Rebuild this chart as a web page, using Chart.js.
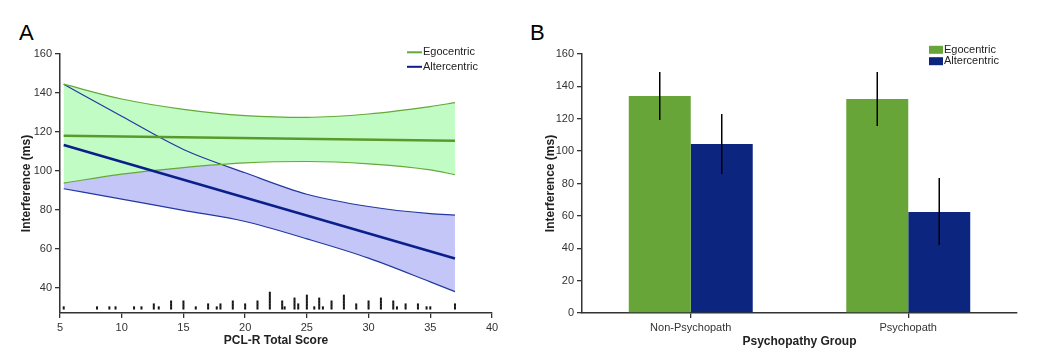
<!DOCTYPE html>
<html><head><meta charset="utf-8">
<script src="https://cdn.jsdelivr.net/npm/chart.js@4.4.0/dist/chart.umd.min.js"></script>
<style>
html,body{margin:0;padding:0;background:#fff;width:1040px;height:363px;overflow:hidden;}
#wa{position:absolute;left:0;top:0;width:510px;height:363px;}
#wb{position:absolute;left:510px;top:0;width:530px;height:363px;}
.lbl{position:absolute;font-family:"Liberation Sans",Arial,sans-serif;font-size:22px;line-height:22px;color:#000;}
</style></head><body>
<div class="lbl" style="left:19px;top:22px">A</div>
<div class="lbl" style="left:530px;top:22px">B</div>
<div id="wa"><canvas id="ca"></canvas></div>
<div id="wb"><canvas id="cb"></canvas></div>
<script>
// ---------- Data: panel A ----------
const seriesNames = ['Egocentric', 'Altercentric'];
const fitScores = [5.3, 37];
const egoFit = [118, 115.5];
const alterFit = [113.3, 55];
const ciScores = [5.3, 10, 15, 20, 25, 30, 35, 37];
const egoUpper = [144.5, 136.9, 131.6, 128.4, 127.5, 129.2, 133, 135];
const egoLower = [93.7, 98.3, 101.7, 104.1, 104.8, 103.6, 100.5, 98];
const alterUpper = [144.5, 128, 111, 99, 88, 81.7, 78, 77.3];
const alterLower = [90.8, 85.5, 79.7, 74, 65.1, 55.2, 43, 38];
const rugScores = [5.3, 8, 9, 9.5, 11, 11.6, 12.6, 13, 14, 15, 16, 17, 17.7, 18, 19, 20, 21, 22, 23, 23.2, 24, 24.3, 25, 25.6, 26, 26.3, 27, 28, 29, 30, 31, 32, 32.3, 33, 34, 34.7, 35, 37];
const rugCounts = [1, 1, 1, 1, 1, 1, 2, 1, 3, 3, 1, 2, 1, 2, 3, 2, 3, 6, 3, 1, 4, 2, 5, 1, 4, 1, 3, 5, 2, 3, 4, 3, 1, 2, 2, 1, 1, 2];
const rugBase = 29.6, rugStep = 1.5;
const xTicksA = [5, 10, 15, 20, 25, 30, 35, 40];
const yTicksA = [40, 60, 80, 100, 120, 140, 160];

// ---------- Data: panel B ----------
const groups = ['Non-Psychopath', 'Psychopath'];
const egoMeans = [134, 132.2];
const egoErrLow = [119.2, 115.5];
const egoErrHigh = [148.9, 148.9];
const alterMeans = [104.4, 62.4];
const alterErrLow = [85.9, 42];
const alterErrHigh = [122.9, 83.4];
const yTicksB = [0, 20, 40, 60, 80, 100, 120, 140, 160];

const FONT = '"Liberation Sans", Arial, sans-serif';
const AX = '#333';
const GREEN_LINE = '#66a83a', GREEN_FIT = '#5a9a2c', GREEN_FILL = '#c2fcc5';
const BLUE_LINE = '#2338a0', BLUE_FIT = '#0b1f8a', BLUE_FILL = '#c4c6f8';
const GREEN_BAR = '#68a538', BLUE_BAR = '#0c2680';

const pts = (xs, ys) => xs.map((x, i) => ({x: x, y: ys[i]}));
const rugPts = [];
rugScores.forEach((s, i) => { for (let k = 0; k < rugCounts[i]; k++) rugPts.push({x: s, y: rugBase + k * rugStep}); });

const legendPlugin = {
  id: 'customLegend',
  afterDraw(chart, args, o) {
    if (!o || !o.items) return;
    const ctx = chart.ctx; ctx.save();
    ctx.font = '11px ' + FONT; ctx.textBaseline = 'middle'; ctx.textAlign = 'left';
    o.items.forEach((it, i) => {
      const y = o.y + i * o.dy;
      if (o.kind === 'line') {
        ctx.strokeStyle = it.color; ctx.lineWidth = 2;
        ctx.beginPath(); ctx.moveTo(o.x, y); ctx.lineTo(o.x + 15, y); ctx.stroke();
      } else {
        ctx.fillStyle = it.color; ctx.fillRect(o.x, y - 4, 14, 8);
      }
      ctx.fillStyle = '#222'; ctx.fillText(it.label, o.x + o.textOff, y);
    });
    ctx.restore();
  }
};

const errPlugin = {
  id: 'errBars',
  afterDatasetsDraw(chart) {
    const ctx = chart.ctx, ys = chart.scales.y; ctx.save();
    ctx.strokeStyle = '#000'; ctx.lineWidth = 1.5;
    chart.data.datasets.forEach((ds, di) => {
      chart.getDatasetMeta(di).data.forEach((bar, i) => {
        ctx.beginPath();
        ctx.moveTo(bar.x, ys.getPixelForValue(ds.errLow[i]));
        ctx.lineTo(bar.x, ys.getPixelForValue(ds.errHigh[i]));
        ctx.stroke();
      });
    });
    ctx.restore();
  }
};

const tickFont = {family: FONT, size: 11};
const titleFont = {family: FONT, size: 12, weight: 'bold'};

function axisX(extra) {
  return Object.assign({
    grid: {display: true, drawOnChartArea: false, drawTicks: true, tickLength: 5, color: AX, tickColor: AX, lineWidth: 1.3},
    border: {display: true, color: AX, width: 1.5},
    ticks: {font: tickFont, color: '#333', padding: 3, maxRotation: 0, autoSkip: false},
    afterFit(s) { s.height = 50; }
  }, extra);
}
function axisY(extra, w) {
  return Object.assign({
    grid: {display: true, drawOnChartArea: false, drawTicks: true, tickLength: 5, color: AX, tickColor: AX, lineWidth: 1.3},
    border: {display: true, color: AX, width: 1.5},
    ticks: {font: tickFont, color: '#333', padding: 3},
    afterFit(s) { s.width = w; }
  }, extra);
}

new Chart(document.getElementById('ca'), {
  type: 'line',
  data: {
    datasets: [
      {label: seriesNames[0], data: pts(fitScores, egoFit), borderColor: GREEN_FIT, borderWidth: 2.5, pointRadius: 0, fill: false},
      {label: seriesNames[1], data: pts(fitScores, alterFit), borderColor: BLUE_FIT, borderWidth: 2.5, pointRadius: 0, fill: false},
      {label: 'ego upper', data: pts(ciScores, egoUpper), borderColor: GREEN_LINE, borderWidth: 1.2, pointRadius: 0, cubicInterpolationMode: 'monotone', fill: {target: '+1', above: GREEN_FILL, below: GREEN_FILL}},
      {label: 'ego lower', data: pts(ciScores, egoLower), borderColor: GREEN_LINE, borderWidth: 1.2, pointRadius: 0, cubicInterpolationMode: 'monotone', fill: false},
      {label: 'alter upper', data: pts(ciScores, alterUpper), borderColor: BLUE_LINE, borderWidth: 1.2, pointRadius: 0, cubicInterpolationMode: 'monotone', fill: {target: '+1', above: BLUE_FILL, below: BLUE_FILL}},
      {label: 'alter lower', data: pts(ciScores, alterLower), borderColor: BLUE_LINE, borderWidth: 1.2, pointRadius: 0, cubicInterpolationMode: 'monotone', fill: false},
      {label: 'rug', type: 'scatter', data: rugPts, showLine: false, pointStyle: 'line', rotation: 90, pointRadius: 1.6, backgroundColor: '#151515', borderColor: '#151515', borderWidth: 2}
    ]
  },
  options: {
    responsive: true, maintainAspectRatio: false, animation: false,
    layout: {padding: {left: 0, top: 54, right: 18, bottom: 0}},
    plugins: {
      legend: {display: false}, tooltip: {enabled: false},
      filler: {propagate: false, drawTime: 'beforeDatasetsDraw'},
      customLegend: {kind: 'line', x: 407, y: 52.3, dy: 14.5, textOff: 16,
        items: [{label: seriesNames[0], color: GREEN_LINE}, {label: seriesNames[1], color: BLUE_FIT}]}
    },
    scales: {
      x: axisX({type: 'linear', min: 5, max: 40,
        afterBuildTicks(s) { s.ticks = xTicksA.map(v => ({value: v})); },
        title: {display: true, text: 'PCL-R Total Score', font: titleFont, color: '#222', padding: {top: 0, bottom: 15}}}),
      y: axisY({type: 'linear', min: 27, max: 160,
        afterBuildTicks(s) { s.ticks = yTicksA.map(v => ({value: v})); },
        title: {display: true, text: 'Interference (ms)', font: titleFont, color: '#222', padding: {top: 19, bottom: 0}}}, 60)
    }
  },
  plugins: [legendPlugin]
});

new Chart(document.getElementById('cb'), {
  type: 'bar',
  data: {
    labels: groups,
    datasets: [
      {label: seriesNames[0], data: egoMeans, errLow: egoErrLow, errHigh: egoErrHigh, backgroundColor: GREEN_BAR, borderWidth: 0, barPercentage: 1, categoryPercentage: 0.57},
      {label: seriesNames[1], data: alterMeans, errLow: alterErrLow, errHigh: alterErrHigh, backgroundColor: BLUE_BAR, borderWidth: 0, barPercentage: 1, categoryPercentage: 0.57}
    ]
  },
  options: {
    responsive: true, maintainAspectRatio: false, animation: false,
    layout: {padding: {left: 0, top: 54, right: 23, bottom: 0}},
    plugins: {
      legend: {display: false}, tooltip: {enabled: false},
      customLegend: {kind: 'box', x: 419, y: 49.8, dy: 11.4, textOff: 15,
        items: [{label: seriesNames[0], color: GREEN_BAR}, {label: seriesNames[1], color: BLUE_BAR}]}
    },
    scales: {
      x: axisX({type: 'category',
        grid: {display: true, offset: false, drawOnChartArea: false, drawTicks: true, tickLength: 5, color: AX, tickColor: AX, lineWidth: 1.3},
        title: {display: true, text: 'Psychopathy Group', font: titleFont, color: '#222', padding: {top: 0, bottom: 14}}}),
      y: axisY({type: 'linear', min: 0, max: 160,
        afterBuildTicks(s) { s.ticks = yTicksB.map(v => ({value: v})); },
        title: {display: true, text: 'Interference (ms)', font: titleFont, color: '#222', padding: {top: 33, bottom: 0}}}, 72)
    }
  },
  plugins: [legendPlugin, errPlugin]
});
</script>
</body></html>
